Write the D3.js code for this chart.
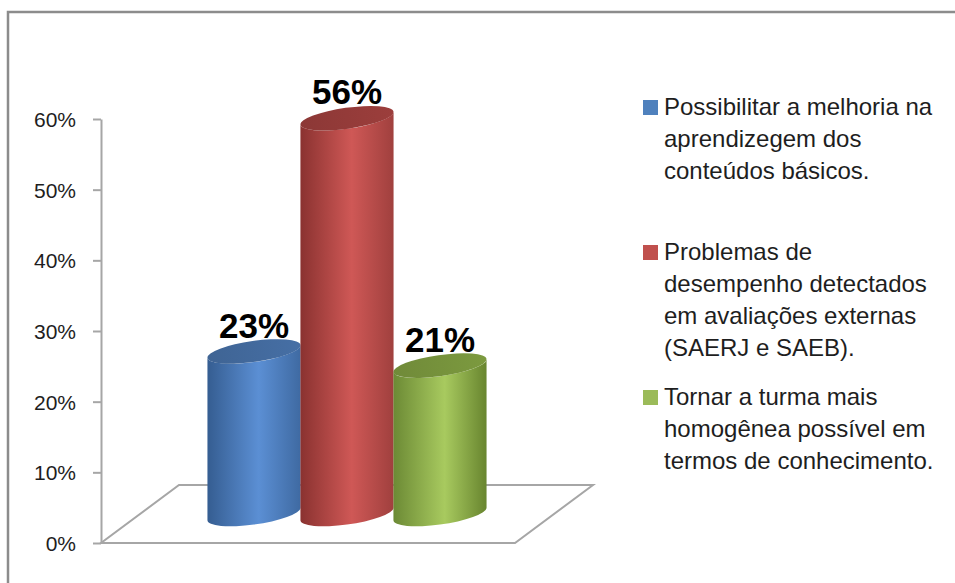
<!DOCTYPE html>
<html>
<head>
<meta charset="utf-8">
<script src="https://cdn.jsdelivr.net/npm/d3@7"></script>
<style>
  html, body { margin: 0; padding: 0; background: #fff; }
  svg { display: block; }
</style>
</head>
<body>
<svg id="chart" width="955" height="583"></svg>
<script>
// Series (one cylinder per series) and their values
const series = ["Possibilitar", "Problemas", "Tornar"];
const values = [0.23, 0.56, 0.21];
const labels = ["23%", "56%", "21%"];
const colors = ["#4f81bd", "#c0504d", "#9bbb59"];
// Gradient shades for each cylinder: [dark edge, highlight, right edge, top]
const shades = [
  ["#355d91", "#5b8fd4", "#3f6aa2", "#42699c"],
  ["#8a3230", "#cf5856", "#a0403e", "#943b39"],
  ["#6c8a35", "#a8ca5f", "#68852f", "#76923c"]
];
// Legend text, one array of lines per series
const legendLines = [
  ["Possibilitar a melhoria na", "aprendizegem dos", "conteúdos básicos."],
  ["Problemas de", "desempenho detectados", "em avaliações externas", "(SAERJ e SAEB)."],
  ["Tornar a turma mais", "homogênea possível em", "termos de conhecimento."]
];
const yTicks = [0, 0.1, 0.2, 0.3, 0.4, 0.5, 0.6];

const svg = d3.select("#chart");

// Outer chart frame (continues past the right and bottom edges)
svg.append("rect")
  .attr("x", 8).attr("y", 12).attr("width", 1200).attr("height", 800)
  .attr("fill", "#fff").attr("stroke", "#8c8c8c").attr("stroke-width", 2.5);

// 3D frame: front plane plus an oblique depth offset
const front = { left: 101, right: 515, bottom: 543, top: 119 };
const depth = { dx: 78, dy: -58 };
const zMid = 0.5;

const y = d3.scaleLinear().domain([0, 0.6]).range([front.bottom, front.top]);
const x = d3.scaleBand()
  .domain(series)
  .range([front.left + depth.dx * zMid, front.right + depth.dx * zMid])
  .paddingInner(0)
  .paddingOuter(0.726);

const gridColor = "#a6a6a6";

// Floor
const floor = [
  [front.left, front.bottom],
  [front.right, front.bottom],
  [front.right + depth.dx, front.bottom + depth.dy],
  [front.left + depth.dx, front.bottom + depth.dy]
];
svg.append("path")
  .attr("d", d3.line()(floor) + "Z")
  .attr("fill", "none")
  .attr("stroke", gridColor)
  .attr("stroke-width", 2);

// Value axis
const yAxis = svg.append("g")
  .attr("transform", `translate(${front.left},0)`)
  .call(d3.axisLeft(y).tickValues(yTicks).tickFormat(d3.format(".0%"))
    .tickSize(8).tickSizeOuter(0).tickPadding(17));
yAxis.select(".domain").attr("stroke", gridColor).attr("stroke-width", 2);
yAxis.selectAll(".tick line").attr("stroke", gridColor).attr("stroke-width", 2);
yAxis.selectAll(".tick text")
  .attr("font-family", "'Liberation Sans', Arial, sans-serif")
  .attr("font-size", 21)
  .attr("fill", "#1e1e1e")
  .attr("dy", "0.36em");

// Gradients
const defs = svg.append("defs");
series.forEach((s, i) => {
  const g = defs.append("linearGradient")
    .attr("id", "body" + i).attr("x1", "0").attr("x2", "1").attr("y1", "0").attr("y2", "0");
  g.append("stop").attr("offset", "0").attr("stop-color", shades[i][0]);
  g.append("stop").attr("offset", "0.55").attr("stop-color", shades[i][1]);
  g.append("stop").attr("offset", "1").attr("stop-color", shades[i][2]);
  const t = defs.append("linearGradient")
    .attr("id", "top" + i).attr("x1", "0").attr("x2", "1").attr("y1", "0").attr("y2", "0");
  t.append("stop").attr("offset", "0").attr("stop-color", d3.color(shades[i][3]).darker(0.15));
  t.append("stop").attr("offset", "1").attr("stop-color", d3.color(shades[i][3]).brighter(0.15));
});

// Cylinders
const rx = x.bandwidth() / 2 + 0.5;
const ry = 10.5;
const tilt = -8; // degrees
const th = tilt * Math.PI / 180;
const hw = Math.sqrt(rx * rx * Math.cos(th) ** 2 + ry * ry * Math.sin(th) ** 2);
const ty = (rx * rx - ry * ry) * Math.sin(th) * Math.cos(th) / hw;
const vHalf = Math.sqrt(rx * rx * Math.sin(th) ** 2 + ry * ry * Math.cos(th) ** 2);

const cyl = svg.append("g").selectAll("g")
  .data(series.map((s, i) => ({ s, i, v: values[i], label: labels[i] })))
  .join("g");

cyl.each(function(d) {
  const g = d3.select(this);
  const cx = x(d.s) + x.bandwidth() / 2;
  const cb = y(0) + depth.dy * zMid;
  const ct = y(d.v) + depth.dy * zMid;
  const body = [
    `M${cx - hw},${ct - ty}`,
    `L${cx - hw},${cb - ty}`,
    `A${rx},${ry} ${tilt} 0 0 ${cx + hw},${cb + ty}`,
    `L${cx + hw},${ct + ty}`,
    `A${rx},${ry} ${tilt} 0 1 ${cx - hw},${ct - ty}`,
    "Z"
  ].join(" ");
  g.append("path").attr("d", body).attr("fill", `url(#body${d.i})`);
  g.append("ellipse")
    .attr("cx", cx).attr("cy", ct).attr("rx", rx).attr("ry", ry)
    .attr("transform", `rotate(${tilt},${cx},${ct})`)
    .attr("fill", `url(#top${d.i})`);
  g.append("text")
    .attr("x", cx)
    .attr("y", ct - vHalf - 1.5)
    .attr("text-anchor", "middle")
    .attr("font-family", "'Liberation Sans', Arial, sans-serif")
    .attr("font-weight", "bold")
    .attr("font-size", 35)
    .attr("fill", "#000")
    .text(d.label);
});

// Legend
const legend = { x: 643, y: 115, slot: 145, line: 32, box: 15 };
const lg = svg.append("g").selectAll("g")
  .data(legendLines.map((lines, i) => ({ lines, i })))
  .join("g")
  .attr("transform", d => `translate(${legend.x},${legend.y + d.i * legend.slot})`);
lg.append("rect")
  .attr("x", 0).attr("y", -legend.box).attr("width", legend.box).attr("height", legend.box)
  .attr("fill", d => colors[d.i]);
lg.append("text")
  .attr("font-family", "'Liberation Sans', Arial, sans-serif")
  .attr("font-size", 24)
  .attr("fill", "#1e1e1e")
  .selectAll("tspan")
  .data(d => d.lines)
  .join("tspan")
  .attr("x", 21)
  .attr("y", (t, j) => j * legend.line)
  .text(t => t);
</script>
</body>
</html>
